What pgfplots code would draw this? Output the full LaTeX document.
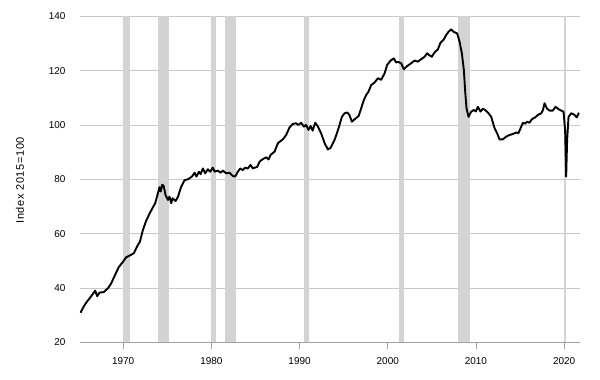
\documentclass[border=0pt]{standalone}
\usepackage{fontspec}
\setmainfont{Liberation Sans}
\usepackage{pgfplots}
\pgfplotsset{compat=1.18}
\definecolor{band}{HTML}{D3D3D3}
\definecolor{gridc}{HTML}{C8C8C8}
\definecolor{axc}{HTML}{A0A0A0}
\begin{document}
\begin{tikzpicture}[x=1bp,y=1bp,font=\fontsize{10}{12}\selectfont]
\path[use as bounding box] (-80bp,-37.7bp) rectangle (520bp,342.3bp);
\begin{axis}[
  scale only axis, width=500bp, height=326bp,
  xmin=1965.1, xmax=2021.8, ymin=20, ymax=140,
  axis lines*=left,
  x axis line style={draw=axc, line width=0.8bp},
  y axis line style={draw=none},
  xtick={1970,1980,1990,2000,2010,2020},
  ytick={20,40,60,80,100,120,140},
  /pgf/number format/1000 sep={},
  /pgf/number format/assume math mode=true,
  tick align=outside,
  major tick length=7bp,
  xtick style={draw=axc, line width=0.8bp},
  ytick style={draw=none},
  ymajorgrids, grid style={draw=gridc, line width=0.8bp},
  yticklabel style={xshift=-4bp},
  xticklabel style={yshift=-5bp},
  ylabel={\fontsize{11}{13}\selectfont\addfontfeatures{LetterSpace=6}Index 2015=100},
  every axis y label/.style={at={(axis description cs:0,0.5)}, xshift=-60bp, yshift=-1bp, rotate=90, anchor=center},
  clip=false,
]
\addplot[fill=band, draw=none] coordinates {(1969.93,20) (1970.76,20) (1970.76,140) (1969.93,140)} -- cycle;
\addplot[fill=band, draw=none] coordinates {(1973.9,20) (1975.2,20) (1975.2,140) (1973.9,140)} -- cycle;
\addplot[fill=band, draw=none] coordinates {(1980.0,20) (1980.5,20) (1980.5,140) (1980.0,140)} -- cycle;
\addplot[fill=band, draw=none] coordinates {(1981.53,20) (1982.78,20) (1982.78,140) (1981.53,140)} -- cycle;
\addplot[fill=band, draw=none] coordinates {(1990.52,20) (1991.09,20) (1991.09,140) (1990.52,140)} -- cycle;
\addplot[fill=band, draw=none] coordinates {(2001.22,20) (2001.82,20) (2001.82,140) (2001.22,140)} -- cycle;
\addplot[fill=band, draw=none] coordinates {(2007.95,20) (2009.31,20) (2009.31,140) (2007.95,140)} -- cycle;
\addplot[fill=band, draw=none] coordinates {(2020.04,20) (2020.23,20) (2020.23,140) (2020.04,140)} -- cycle;
\addplot[black, line width=1.9bp, line join=round] table {
1965.17 30.9
1965.4 32.5
1965.62 33.7
1965.9 35.0
1966.19 36.2
1966.56 37.8
1966.82 39.0
1967.05 37.0
1967.32 38.3
1967.81 38.5
1968.27 39.9
1968.64 41.7
1969.02 44.4
1969.48 47.6
1969.97 49.6
1970.34 51.3
1970.84 52.1
1971.21 52.8
1971.59 55.4
1971.89 57.0
1972.23 61.3
1972.61 64.8
1973.1 68.1
1973.63 71.2
1973.93 74.8
1974.12 77.1
1974.25 75.5
1974.42 78.0
1974.58 77.6
1974.8 74.2
1975.07 72.4
1975.25 73.6
1975.44 71.2
1975.6 73.0
1975.94 72.0
1976.2 73.5
1976.4 75.5
1976.58 77.3
1976.96 79.7
1977.34 80.0
1977.79 81.0
1978.1 82.4
1978.3 81.0
1978.58 82.8
1978.77 81.9
1979.04 84.0
1979.3 82.2
1979.6 83.7
1979.87 82.8
1980.14 84.3
1980.37 82.8
1980.74 83.2
1981.04 82.4
1981.3 83.2
1981.68 82.2
1982.06 82.4
1982.44 81.2
1982.7 81.0
1983.0 82.8
1983.27 84.0
1983.57 83.4
1983.83 84.3
1984.13 84.0
1984.44 85.3
1984.7 84.0
1985.2 84.6
1985.47 86.5
1985.77 87.3
1986.22 88.1
1986.48 87.3
1986.72 89.0
1987.17 90.2
1987.54 93.3
1988.1 94.7
1988.48 96.3
1988.86 99.1
1989.24 100.4
1989.62 100.6
1989.85 100.0
1990.18 100.8
1990.49 99.4
1990.74 100.0
1991.02 98.2
1991.25 99.6
1991.48 97.9
1991.77 100.8
1992.08 99.4
1992.45 96.9
1992.84 93.3
1993.2 91.0
1993.5 91.5
1993.97 94.5
1994.42 98.8
1994.8 103.0
1995.1 104.3
1995.4 104.6
1995.65 103.7
1995.93 101.2
1996.2 102.0
1996.7 103.3
1996.98 106.1
1997.29 109.2
1997.55 111.0
1997.82 112.3
1998.12 114.7
1998.5 115.6
1998.88 117.2
1999.25 116.6
1999.64 119.0
1999.93 122.1
2000.32 123.7
2000.69 124.5
2000.95 123.0
2001.2 123.2
2001.52 122.7
2001.82 120.5
2002.2 121.7
2002.65 122.7
2003.04 123.7
2003.4 123.3
2003.79 124.2
2004.17 125.1
2004.47 126.4
2004.7 125.7
2005.0 125.1
2005.3 126.7
2005.68 127.8
2005.98 130.3
2006.36 131.5
2006.62 133.1
2006.89 134.3
2007.19 135.2
2007.46 134.3
2007.87 133.7
2008.14 130.7
2008.4 126.4
2008.63 120.2
2008.78 112.3
2008.93 106.1
2009.16 103.0
2009.46 104.9
2009.75 105.5
2010.0 105.0
2010.22 106.7
2010.52 104.9
2010.78 106.0
2011.04 105.5
2011.43 104.3
2011.73 103.0
2012.11 98.8
2012.41 96.9
2012.67 94.7
2013.05 94.7
2013.42 95.7
2013.81 96.3
2014.19 96.7
2014.56 97.2
2014.82 97.0
2015.06 98.8
2015.32 100.8
2015.6 100.5
2015.8 101.2
2016.06 100.8
2016.34 102.1
2016.72 102.8
2017.02 103.7
2017.4 104.3
2017.6 105.5
2017.78 108.0
2018.04 106.1
2018.34 105.3
2018.72 105.3
2019.03 106.7
2019.37 105.8
2019.66 105.3
2019.93 104.9
2020.11 98.2
2020.23 81.0
2020.34 94.5
2020.5 103.0
2020.8 104.3
2021.15 103.8
2021.44 102.8
2021.67 104.5
};
\end{axis}
\end{tikzpicture}
\end{document}
